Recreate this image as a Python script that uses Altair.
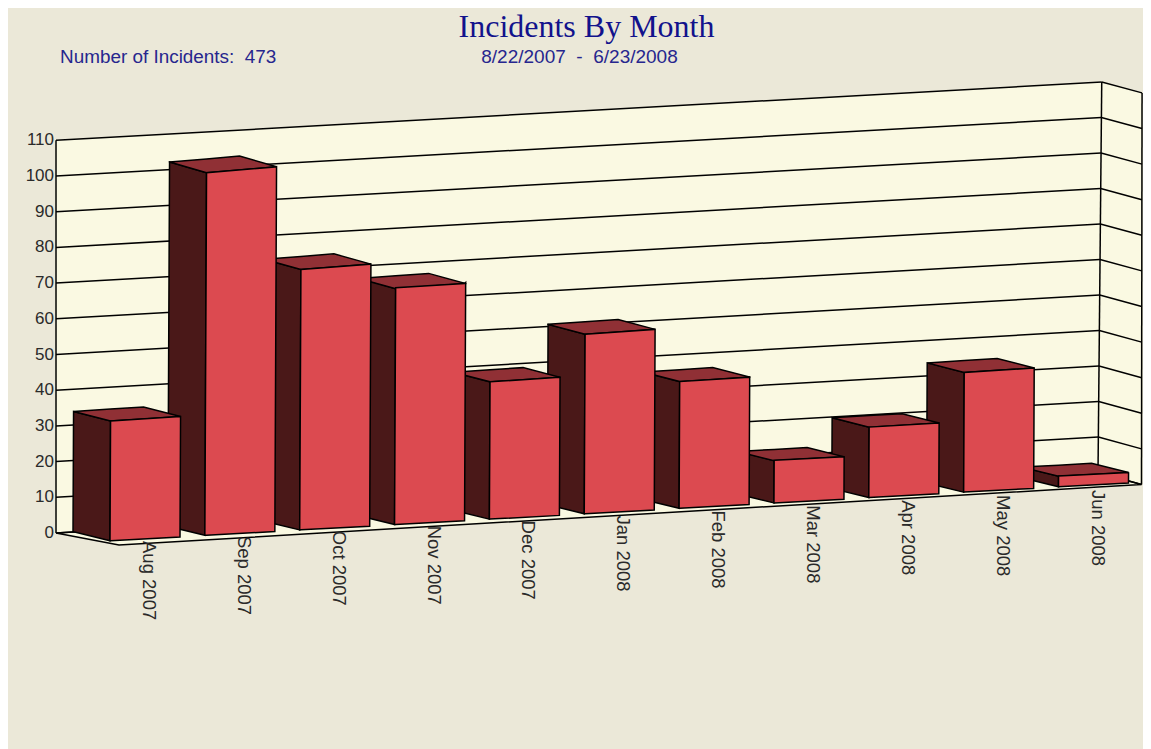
import altair as alt
import pandas as pd

months = ["Aug 2007", "Sep 2007", "Oct 2007", "Nov 2007", "Dec 2007", "Jan 2008",
          "Feb 2008", "Mar 2008", "Apr 2008", "May 2008", "Jun 2008"]
incidents = [34, 103, 74, 67, 39, 51, 36, 12, 20, 34, 3]
ticks = list(range(0, 111, 10))

BG, WALL = "#EBE8D8", "#FAF9E2"
FRONT, SIDE, TOP = "#DC4A50", "#4A1818", "#903035"
NAVY, DATE_BLUE = "#12128C", "#26268E"

W, H = 1135, 741
sx = alt.Scale(domain=[8, 8 + W], range=[0, W], nice=False, zero=False)
sy = alt.Scale(domain=[8, 8 + H], range=[0, H], nice=False, zero=False)
X = alt.X("x:Q", scale=sx, axis=None)
Y = alt.Y("y:Q", scale=sy, axis=None)


def project(slot, across, depth, value):
    """Oblique 3-D projection of a bar corner: slot index, 0/1 across the bar,
    0/1 front-to-back, value in incidents."""
    x = 110 + 94.85 * slot + 70 * across + 0.0165 * value - 37 * depth
    y = 540.7 - 0.0569 * 94.85 * slot
    y -= (3.7 + 0.022 * value) * across
    y -= (9 + 0.0165 * value) * depth
    y -= 3.52 * value
    return x, y


def polygon(points):
    """Table for an area mark filling a convex polygon."""
    stops = sorted({round(p[0], 2) for p in points})
    n = len(points)
    rows = []
    for sx_ in stops:
        ys = []
        for i in range(n):
            (x0, y0), (x1, y1) = points[i], points[(i + 1) % n]
            lo, hi = min(x0, x1), max(x0, x1)
            if lo - 0.01 <= sx_ <= hi + 0.01:
                if abs(x1 - x0) < 0.01:
                    ys += [y0, y1]
                else:
                    ys.append(y0 + (y1 - y0) * (sx_ - x0) / (x1 - x0))
        rows.append({"x": sx_, "y": min(ys), "y2": max(ys)})
    return pd.DataFrame(rows)


def face(points, fill, stroke="#000000", sw=1.5):
    return alt.Chart(polygon(points)).mark_area(
        fill=fill, stroke=stroke, strokeWidth=sw, opacity=1, interpolate="linear"
    ).encode(x=X, y=Y, y2=alt.Y2("y2:Q"))


def segs(rows, color="#000000", sw=1.5):
    return alt.Chart(pd.DataFrame(rows, columns=["x", "y", "x2", "y2"])).mark_rule(
        color=color, strokeWidth=sw
    ).encode(x=X, y=Y, x2=alt.X2("x2:Q"), y2=alt.Y2("y2:Q"))


def back_pt(v):
    return 56, 533 - 3.57 * v


def corner_pt(v):
    return 1098 + 0.034 * v, 472.5 - 3.55 * v


def right_pt(v):
    # outer wall edge; the drawable width stops at 1143
    return 1141.5 + 0.005 * v, 484.5 - 3.56 * v


top_v = ticks[-1]
layers = [
    face([back_pt(top_v), corner_pt(top_v), corner_pt(0), back_pt(0)], WALL, stroke=WALL),
    face([corner_pt(top_v), right_pt(top_v), right_pt(0), corner_pt(0)], WALL, stroke=WALL),
    face([back_pt(0), (119, 545), right_pt(0), corner_pt(0)], WALL),
    segs([(*back_pt(v), *corner_pt(v)) for v in ticks]),
    segs([(*corner_pt(v), *right_pt(v)) for v in ticks]),
    segs([(*back_pt(0), *back_pt(top_v)),
          (*corner_pt(0), *corner_pt(top_v)),
          (*right_pt(0), *right_pt(top_v))]),
]

# month labels sit under the bars
label_df = pd.DataFrame({
    "x": [110 + 94.85 * i + 39 for i in range(len(months))],
    "y": [541 - 0.0538 * 94.85 * i for i in range(len(months))],
    "t": months,
})
layers.append(alt.Chart(label_df).mark_text(
    angle=90, align="left", baseline="middle", font="Liberation Sans", fontSize=18.5, color="#2A2A2A"
).encode(x=X, y=Y, text="t:N"))

# bars, painted right to left
for i in reversed(range(len(incidents))):
    v = incidents[i]
    fl_t, fr_t = project(i, 0, 0, v), project(i, 1, 0, v)
    fl_b, fr_b = project(i, 0, 0, 0), project(i, 1, 0, 0)
    bl_t, br_t = project(i, 0, 1, v), project(i, 1, 1, v)
    bl_b = project(i, 0, 1, 0)
    layers.append(face([bl_t, fl_t, fl_b, bl_b], SIDE))
    layers.append(face([bl_t, br_t, fr_t, fl_t], TOP))
    layers.append(face([fl_t, fr_t, fr_b, fl_b], FRONT))

tick_df = pd.DataFrame({"x": [54] * len(ticks), "y": [back_pt(v)[1] for v in ticks], "t": [str(v) for v in ticks]})
layers.append(alt.Chart(tick_df).mark_text(
    align="right", baseline="middle", font="Liberation Sans", fontSize=17, color="#2A2A2A"
).encode(x=X, y=Y, text="t:N"))


def header(text, x, y, size, font, color, align):
    return alt.Chart(pd.DataFrame({"x": [x], "y": [y], "t": [text]})).mark_text(
        align=align, baseline="alphabetic", font=font, fontSize=size, color=color
    ).encode(x=X, y=Y, text="t:N")


layers += [
    header("Incidents By Month", 586.5, 36.5, 32, "Liberation Serif", NAVY, "center"),
    header("Number of Incidents:\u00a0\u00a0473", 60, 62.5, 18.9, "Liberation Sans", DATE_BLUE, "left"),
    header("8/22/2007\u00a0\u00a0-\u00a0\u00a06/23/2008", 579.5, 62.5, 19, "Liberation Sans", DATE_BLUE, "center"),
]

chart = alt.layer(*layers).properties(
    width=W, height=H, background=BG, padding=0,
    autosize=alt.AutoSizeParams(type="none"),
).configure_view(stroke=None)

chart.save("out.html", embed_options={"renderer": "svg", "actions": False})
